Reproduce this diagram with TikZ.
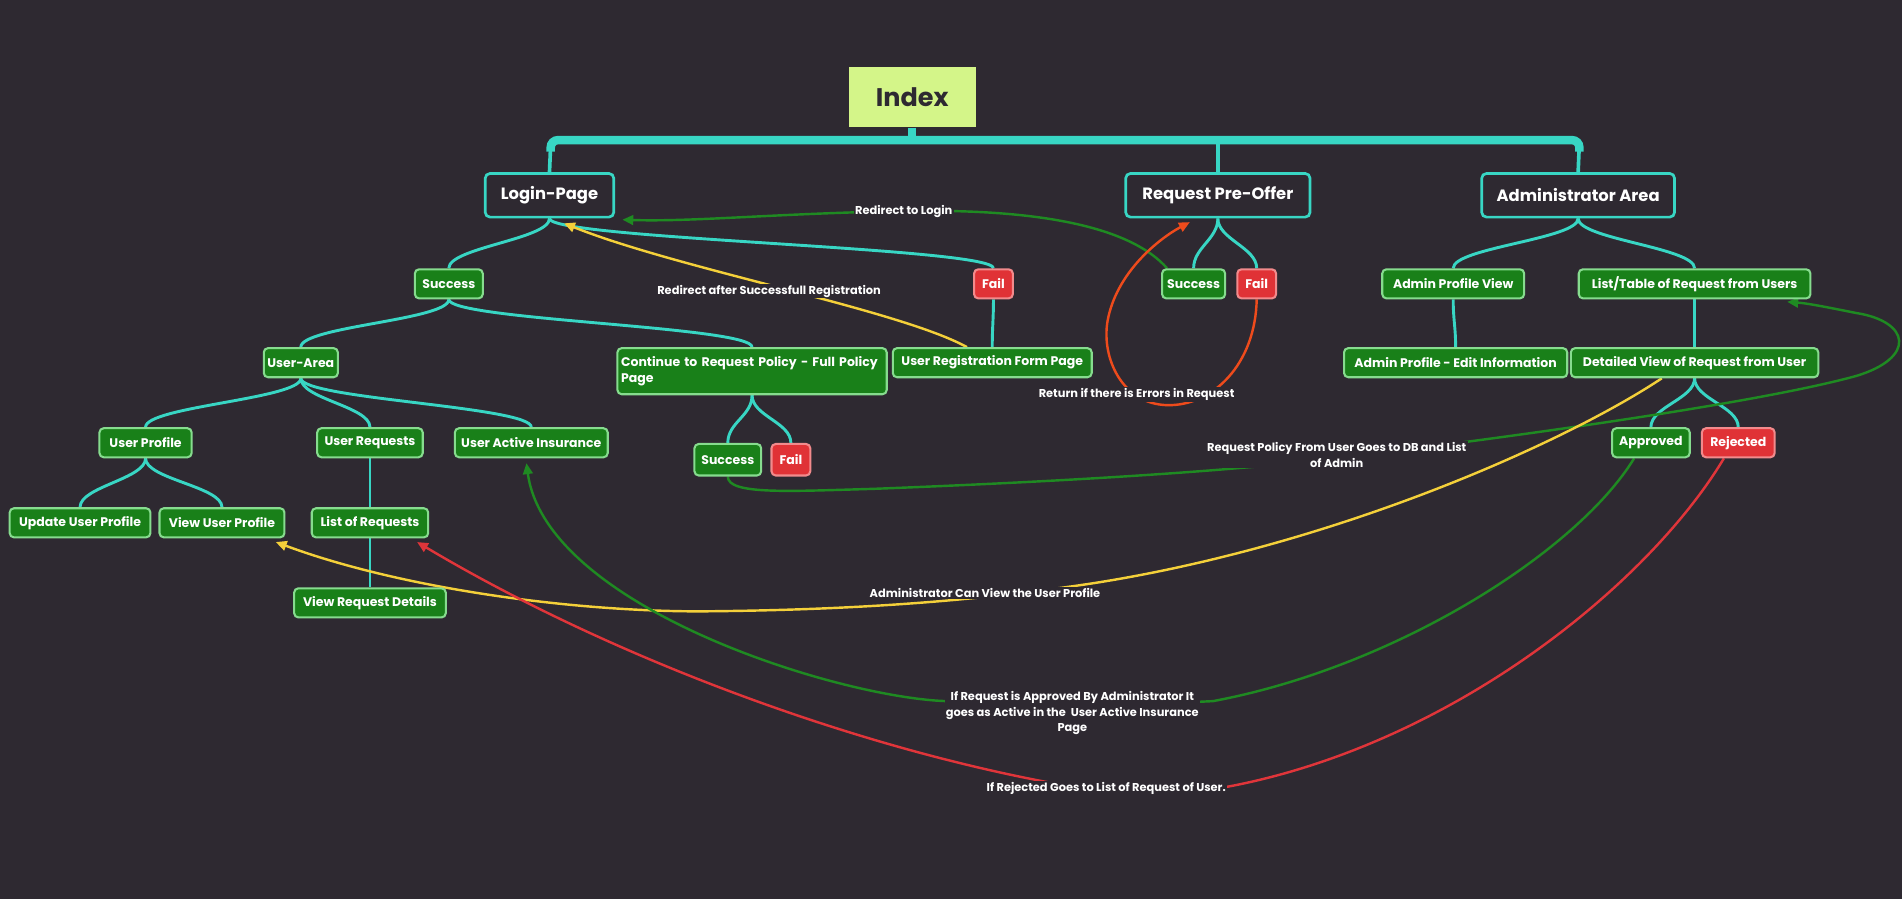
\documentclass[tikz,border=0pt]{standalone}
\usepackage{fontspec}
\setmainfont{Poppins}
\usetikzlibrary{arrows.meta,calc}
\definecolor{bgc}{HTML}{2E2931}
\definecolor{tealc}{HTML}{38D6C4}
\definecolor{idxc}{HTML}{D4F589}
\definecolor{gfill}{HTML}{198019}
\definecolor{gbord}{HTML}{86DC8E}
\definecolor{rfill}{HTML}{E03236}
\definecolor{rbord}{HTML}{F28A8C}
\definecolor{lgreen}{HTML}{1F8A22}
\definecolor{lyellow}{HTML}{F4D03A}
\definecolor{lred}{HTML}{E0353A}
\definecolor{lorange}{HTML}{EE4B1C}
\pgfdeclarelayer{bglayer}
\pgfdeclarelayer{edgelayer}
\pgfsetlayers{bglayer,edgelayer,main}
\newcommand\treeto[2]{\draw[tree] (#1.south) .. controls +(0,17) and +(0,-17) .. (#2.north);}
\begin{document}
\begin{tikzpicture}[x=1pt,y=-1pt,
 bignode/.style={draw=tealc, line width=2.2pt, rounded corners=4pt, fill=bgc, text=white, font=\bfseries\fontsize{13.5}{15}\selectfont, minimum height=36pt, inner xsep=4pt},
 gnode/.style={draw=gbord, line width=1.7pt, rounded corners=3.5pt, fill=gfill, text=white, font=\bfseries\fontsize{10.3}{12.8}\selectfont, minimum height=24pt, inner xsep=3pt, inner ysep=2pt},
 rnode/.style={gnode, draw=rbord, fill=rfill},
 tree/.style={draw=tealc, line width=2.4pt},
 link/.style={line width=2pt, -{Triangle[length=9pt,width=8pt]}},
 lbl/.style={fill=bgc, text=white, font=\bfseries\fontsize{9.4}{12.6}\selectfont, inner xsep=1pt, inner ysep=1pt, align=center}
]
\begin{pgfonlayer}{bglayer}
\fill[bgc] (0,0) rectangle (1568,741);
\end{pgfonlayer}
\useasboundingbox (0,0) rectangle (1568,741);

% ---- nodes
\node[fill=idxc, minimum width=105pt, minimum height=50pt, text=bgc, font=\bfseries\fontsize{21}{24}\selectfont] (idx) at (752,80) {Index};
\node[bignode, minimum width=106pt] (login) at (453,161) {Login-Page};
\node[bignode, minimum width=152pt] (rpo) at (1004,161) {Request Pre-Offer};
\node[bignode, minimum width=159pt] (adm) at (1301,161) {Administrator Area};

\node[gnode, minimum width=56pt] (s1) at (370,234) {Success};
\node[rnode, minimum width=32pt] (f1) at (819,234) {Fail};
\node[gnode, minimum width=52pt] (s2) at (984,234) {Success};
\node[rnode, minimum width=32pt] (f2) at (1036,234) {Fail};
\node[gnode, minimum width=117pt] (apv) at (1198,234) {Admin Profile View};
\node[gnode, minimum width=191pt] (lt) at (1397,234) {List/Table of Request from Users};

\node[gnode, minimum width=55pt] (ua) at (248,299) {User-Area};
\node[gnode, minimum height=38pt, text width=216pt, align=left] (cont) at (620,306) {Continue to Request Policy - Full Policy\\Page};
\node[gnode, minimum width=164pt] (urf) at (818,299) {User Registration Form Page};
\node[gnode, minimum width=184pt] (ape) at (1200,299) {Admin Profile - Edit Information};
\node[gnode, minimum width=204pt] (dv) at (1397,299) {Detailed View of Request from User};

\node[gnode, minimum width=76pt] (up) at (120,365) {User Profile};
\node[gnode, minimum width=87pt] (ur) at (305,365) {User Requests};
\node[gnode, minimum width=126pt] (uai) at (438,365) {User Active Insurance};
\node[gnode, minimum width=55pt, minimum height=26pt] (s3) at (600,379) {Success};
\node[rnode, minimum width=32pt, minimum height=26pt] (f3) at (652,379) {Fail};
\node[gnode, minimum width=64pt] (appr) at (1361,365) {Approved};
\node[rnode, minimum width=60pt] (rej) at (1433,365) {Rejected};

\node[gnode, minimum width=116pt] (uup) at (66,431) {Update User Profile};
\node[gnode, minimum width=103pt] (vup) at (183,431) {View User Profile};
\node[gnode, minimum width=96pt] (lr) at (305,431) {List of Requests};
\node[gnode, minimum width=125pt] (vrd) at (305,497) {View Request Details};

% ---- labels of links
\node[lbl] (l1) at (745,174) {Redirect to Login};
\node[lbl] (l2) at (634,240) {Redirect after Successfull Registration};
\node[lbl] (l3) at (937,325) {Return if there is Errors in Request};
\node[lbl] (l4) at (1102,375) {Request Policy From User Goes to DB and List\\of Admin};
\node[lbl] (l5) at (812,489) {Administrator Can View the User Profile};
\node[lbl] (l6) at (884,588) {If Request is Approved By Administrator It\\goes as Active in the\ \ User Active Insurance\\Page};
\node[lbl] (l7) at (912,650) {If Rejected Goes to List of Request of User.};

\begin{pgfonlayer}{edgelayer}
% top bar
\coordinate (barM) at (752,115.5);
\coordinate (barL) at (454,118);
\coordinate (barC) at (1004,116);
\coordinate (barR) at (1302,118);
\draw[tealc, line width=7pt, rounded corners=6pt] (454,125) |- (barM) -| (1302,125);
\draw[tealc, line width=6.5pt] (idx.south) -- (barM);
\draw[tealc, line width=3pt] (barL) -- (login.north);
\draw[tealc, line width=3pt] (barC) -- (rpo.north);
\draw[tealc, line width=3pt] (barR) -- (adm.north);

% tree
\treeto{login}{s1}
\treeto{login}{f1}
\treeto{s1}{ua}
\treeto{s1}{cont}
\treeto{f1}{urf}
\treeto{ua}{up}
\treeto{ua}{ur}
\treeto{ua}{uai}
\treeto{up}{uup}
\treeto{up}{vup}
\treeto{ur}{lr}
\treeto{lr}{vrd}
\treeto{cont}{s3}
\treeto{cont}{f3}
\treeto{rpo}{s2}
\treeto{rpo}{f2}
\treeto{adm}{apv}
\treeto{adm}{lt}
\treeto{apv}{ape}
\treeto{lt}{dv}
\treeto{dv}{appr}
\treeto{dv}{rej}

% links
\draw[link, lgreen] ($(s2.north west)+(5,0)$) .. controls (930,185) and (850,172) .. (745,174)
  .. controls (640,176) and (570,183) .. ($(login.south east)+(6,1)$);
\draw[link, lyellow] ($(urf.north west)+(62,0)$) .. controls (740,255) and (560,222) .. ($(login.south)+(12,4)$);
\draw[link, lorange] (f2.south) .. controls (1035,300) and (1000,335) .. (962,334)
  .. controls (925,333) and (908,295) .. (913,265)
  .. controls (920,225) and (955,197) .. ($(rpo.south west)+(54,3)$);
\draw[link, lgreen] (s3.south) .. controls (600,408) and (650,405) .. (720,403)
  .. controls (850,398) and (1000,390) .. (1100,378)
  .. controls (1250,360) and (1450,332) .. (1530,310)
  .. controls (1580,295) and (1575,265) .. (1530,258)
  .. controls (1510,254) and (1490,250) .. ($(lt.south east)+(-20,2)$);
\draw[link, lyellow] ($(dv.south)+(-27,0)$) .. controls (1290,365) and (1100,450) .. (900,481)
  .. controls (800,496) and (700,503) .. (577,504)
  .. controls (470,504) and (330,485) .. ($(vup.south east)+(-8,3)$);
\draw[link, lgreen] ($(appr.south west)+(19,0)$) .. controls (1300,455) and (1150,550) .. (1000,578)
  .. controls (920,582) and (850,582) .. (780,578)
  .. controls (690,575) and (450,500) .. ($(uai.south)+(-4,4)$);
\draw[link, lred] ($(rej.south west)+(19,0)$) .. controls (1360,480) and (1200,612) .. (1015,648)
  .. controls (960,658) and (900,652) .. (870,646)
  .. controls (700,615) and (500,540) .. ($(lr.south east)+(-10,3)$);
\end{pgfonlayer}
\end{tikzpicture}
\end{document}
